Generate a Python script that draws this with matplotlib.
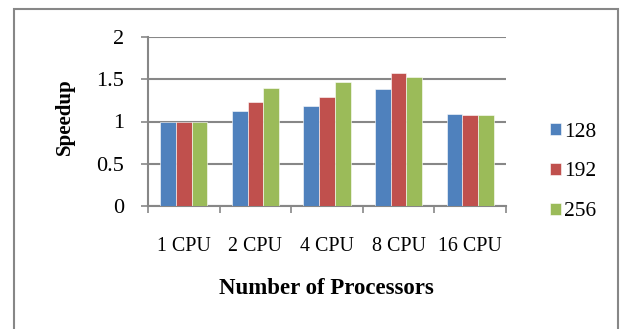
import numpy as np
import matplotlib
matplotlib.use("Agg")
from matplotlib import pyplot as plt
from matplotlib.patches import Rectangle

# data
categories = ['1 CPU', '2 CPU', '4 CPU', '8 CPU', '16 CPU']
series_names = ['128', '192', '256']
speedup_128 = [1.00, 1.13, 1.18, 1.39, 1.09]
speedup_192 = [1.00, 1.23, 1.29, 1.57, 1.08]
speedup_256 = [1.00, 1.40, 1.47, 1.53, 1.08]
y_ticks = [0, 0.5, 1, 1.5, 2]
y_tick_labels = ['0', '0.5', '1', '1.5', '2']

colors = ['#4F81BD', '#C0504D', '#9BBB59']
grid_col = '#878787'

plt.rcParams['font.family'] = ['Liberation Serif', 'DejaVu Serif']

W, H = 622, 329
fig = plt.figure(figsize=(W / 100, H / 100), dpi=100)
ax = fig.add_axes([148 / W, 1 - 206 / H, (506 - 148) / W, (206 - 37) / H])

x = np.arange(len(categories))
bw = 0.219
bars = []
for i, vals in enumerate([speedup_128, speedup_192, speedup_256]):
    b = ax.bar(x + (i - 1) * bw, vals, bw, color=colors[i], edgecolor='white',
               linewidth=0.4, zorder=3, label=series_names[i])
    bars.append(b)

ax.set_xlim(-0.5, len(categories) - 0.5)
ax.set_ylim(0, 2)
ax.set_yticks(y_ticks)
ax.set_yticklabels(y_tick_labels, fontsize=16)
ax.yaxis.grid(True, color=grid_col, linewidth=1.5, zorder=0)
ax.tick_params(axis='y', length=5, width=1.2, color=grid_col, pad=12)

# boundaries as major ticks, names as minor ticks
ax.set_xticks(np.arange(len(categories) + 1) - 0.5)
ax.set_xticklabels([])
ax.set_xticks(x, minor=True)
ax.set_xticklabels(categories, minor=True, fontsize=14.4)
ax.tick_params(axis='x', which='major', length=5, width=1.2, color=grid_col)
ax.tick_params(axis='x', which='minor', length=0, pad=22)

for s in ['top', 'right']:
    ax.spines[s].set_visible(False)
for s in ['left', 'bottom']:
    ax.spines[s].set_color(grid_col)
    ax.spines[s].set_linewidth(1.5)

fig.text(326.5 / W, 1 - 289 / H, 'Number of Processors', fontsize=16.5,
         fontweight='bold', ha='center', va='center')
fig.text(65 / W, 1 - 117 / H, 'Speedup', fontsize=15, fontweight='bold',
         rotation=90, ha='center', va='center')

fig.legend(handles=bars, labels=series_names, loc='center left',
           bbox_to_anchor=(533 / W, 1 - 172 / H), frameon=False, fontsize=15.5,
           handlelength=0.48, handleheight=0.48, handletextpad=0.15,
           labelspacing=0.97, borderpad=0.3)

# outer frame of the chart area
fig.patches.append(Rectangle((13.5 / W, -0.05), (618 - 13.5) / W, 1.05 - 8.5 / H,
                             transform=fig.transFigure, fill=False,
                             edgecolor=grid_col, linewidth=1.5, clip_on=False))

fig.savefig('out.png', dpi=100)
